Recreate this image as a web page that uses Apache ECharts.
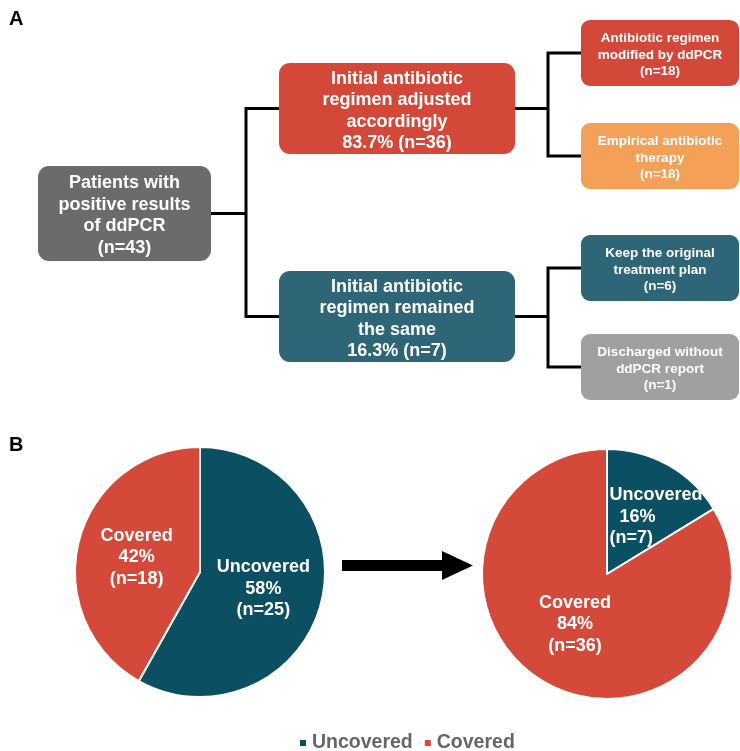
<!DOCTYPE html>
<html>
<head>
<meta charset="utf-8">
<title>ddPCR antibiotic regimen</title>
<script src="https://cdn.jsdelivr.net/npm/echarts@6/dist/echarts.min.js"></script>
<style>
  html, body { margin: 0; padding: 0; background: #ffffff; }
  #chart { width: 740px; height: 751px; }
</style>
</head>
<body>
<div id="chart"></div>
<script>
// ---- Data ----
const rootLabel = 'Patients with\npositive results\nof ddPCR';
const rootCount = 43;

const branchLabels = [
  'Initial antibiotic\nregimen adjusted\naccordingly',
  'Initial antibiotic\nregimen remained\nthe same'
];
const branchCounts = [36, 7];

const leafLabels = [
  ['Antibiotic regimen\nmodified by ddPCR', 'Empirical antibiotic\ntherapy'],
  ['Keep the original\ntreatment plan', 'Discharged without\nddPCR report']
];
const leafCounts = [
  [18, 18],
  [6, 1]
];

const coverageNames = ['Uncovered', 'Covered'];
const beforeValues = [25, 18];
const afterValues = [7, 36];

// ---- Styling ----
const FONT = '"Liberation Sans", Arial, Helvetica, sans-serif';
const colors = {
  root: '#6b6b6b',
  red: '#d4483a',
  orange: '#f4a056',
  teal: '#2e6677',
  grey: '#a0a0a0',
  pieTeal: '#0a4f62',
  pieRed: '#d4493a'
};
const branchColors = [colors.red, colors.teal];
const leafColors = [[colors.red, colors.orange], [colors.teal, colors.grey]];

// ---- Flow diagram layout (panel A) ----
const layout = {
  root: { x: 38, y: 166, w: 173, h: 95 },
  branchX: 279, branchW: 236, branchH: 91,
  branchY: [63, 271],
  leafX: 581, leafW: 158, leafH: 66,
  leafY: [[20, 123], [235, 334]],
  trunk1X: 246,
  trunk2X: 548
};

function box(x, y, w, h, fill, text, fontSize, lineHeight, r, dy) {
  return {
    type: 'rect',
    shape: { x: x, y: y, width: w, height: h, r: r },
    style: { fill: fill },
    textContent: {
      style: {
        text: text,
        fill: '#ffffff',
        fontFamily: FONT,
        fontWeight: 'bold',
        fontSize: fontSize,
        lineHeight: lineHeight,
        align: 'center',
        verticalAlign: 'middle'
      }
    },
    textConfig: { position: 'inside', offset: [0, dy] }
  };
}

function connector(points) {
  return {
    type: 'polyline',
    shape: { points: points },
    style: { stroke: '#000000', lineWidth: 3, fill: null, lineJoin: 'miter' }
  };
}

const graphics = [];

// panel letters
graphics.push({
  type: 'text', x: 9, y: 9,
  style: { text: 'A', fontFamily: FONT, fontWeight: 'bold', fontSize: 20, fill: '#000' }
});
graphics.push({
  type: 'text', x: 9, y: 435,
  style: { text: 'B', fontFamily: FONT, fontWeight: 'bold', fontSize: 20, fill: '#000' }
});

// root -> branches
const root = layout.root;
const rootMidY = root.y + root.h / 2;
const branchMid = layout.branchY.map(function (y) { return y + layout.branchH / 2; });
graphics.push(connector([[root.x + root.w, rootMidY], [layout.trunk1X, rootMidY]]));
graphics.push(connector([
  [layout.branchX, branchMid[0]], [layout.trunk1X, branchMid[0]],
  [layout.trunk1X, branchMid[1]], [layout.branchX, branchMid[1]]
]));

// branches -> leaves
branchLabels.forEach(function (lbl, i) {
  const leafMid = layout.leafY[i].map(function (y) { return y + layout.leafH / 2; });
  graphics.push(connector([[layout.branchX + layout.branchW, branchMid[i]], [layout.trunk2X, branchMid[i]]]));
  graphics.push(connector([
    [layout.leafX, leafMid[0]], [layout.trunk2X, leafMid[0]],
    [layout.trunk2X, leafMid[1]], [layout.leafX, leafMid[1]]
  ]));
});

// boxes
graphics.push(box(root.x, root.y, root.w, root.h, colors.root,
  rootLabel + '\n(n=' + rootCount + ')', 18, 21.5, 11, 2));

branchLabels.forEach(function (lbl, i) {
  const pct = (branchCounts[i] / rootCount * 100).toFixed(1);
  graphics.push(box(layout.branchX, layout.branchY[i], layout.branchW, layout.branchH,
    branchColors[i], lbl + '\n' + pct + '% (n=' + branchCounts[i] + ')', 18, 21.5, 11, 2.5));
  leafLabels[i].forEach(function (leaf, j) {
    graphics.push(box(layout.leafX, layout.leafY[i][j], layout.leafW, layout.leafH,
      leafColors[i][j], leaf + '\n(n=' + leafCounts[i][j] + ')', 13.5, 16.5, 9, 2));
  });
});

// arrow between the two pies
graphics.push({
  type: 'polygon',
  shape: {
    points: [[342, 560], [442, 560], [442, 551], [473, 565.5], [442, 580], [442, 571], [342, 571]]
  },
  style: { fill: '#000000' }
});

// ---- Pies (panel B) ----
const pieColors = [colors.pieTeal, colors.pieRed];

function pieData(values, overrides) {
  return values.map(function (v, i) {
    const item = { name: coverageNames[i], value: v, itemStyle: { color: pieColors[i] } };
    if (overrides && overrides[i]) item.label = overrides[i];
    return item;
  });
}

const labelFont = {
  color: '#ffffff',
  fontFamily: FONT,
  fontWeight: 'bold',
  fontSize: 18,
  lineHeight: 21.5
};

const pieLabel = Object.assign({
  show: true,
  position: 'inside',
  formatter: '{b}\n{d}%\n(n={c})',
  align: 'center'
}, labelFont);

function pieSeries(center, values, overrides) {
  return {
    type: 'pie',
    center: center,
    radius: 125,
    startAngle: 90,
    clockwise: true,
    percentPrecision: 0,
    silent: true,
    label: pieLabel,
    labelLine: { show: false },
    itemStyle: { borderColor: '#ffffff', borderWidth: 2 },
    emphasis: { disabled: true },
    data: pieData(values, overrides)
  };
}

// small slice: lines set flush left inside the label block
const smallSliceLabel = {
  formatter: '{l|{b}}\n{l|  {d}%}\n{l|(n={c})}',
  offset: [17, 0],
  rich: { l: Object.assign({ align: 'left' }, labelFont) }
};

const chart = echarts.init(document.getElementById('chart'), null, { renderer: 'canvas' });
chart.setOption({
  backgroundColor: '#ffffff',
  animation: false,
  legend: {
    data: coverageNames,
    left: 298,
    top: 733,
    padding: 0,
    icon: 'rect',
    itemWidth: 8,
    itemHeight: 8,
    itemGap: 10,
    textStyle: { fontFamily: FONT, fontWeight: 'bold', fontSize: 19.5, color: '#666666' }
  },
  series: [
    pieSeries([200, 572], beforeValues, [
      null,
      { offset: [0, 2] }
    ]),
    pieSeries([607, 574], afterValues, [
      smallSliceLabel,
      { offset: [0, -7] }
    ])
  ],
  graphic: graphics
});
</script>
</body>
</html>
